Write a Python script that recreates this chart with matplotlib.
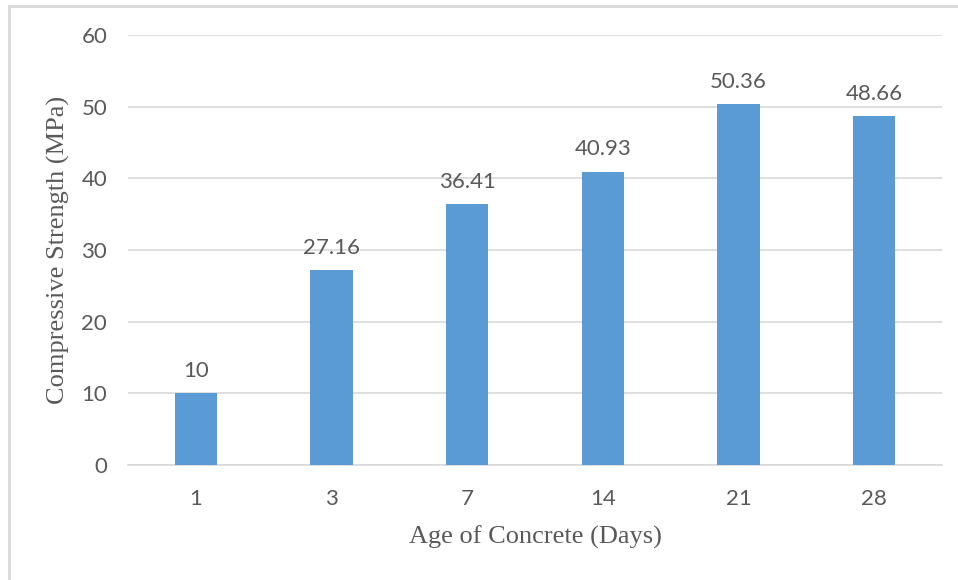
import matplotlib
matplotlib.use("Agg")
import matplotlib.pyplot as plt
from matplotlib.patches import Rectangle

# Data
ages = ["1", "3", "7", "14", "21", "28"]
strength = [10, 27.16, 36.41, 40.93, 50.36, 48.66]
value_labels = ["10", "27.16", "36.41", "40.93", "50.36", "48.66"]

BAR_COLOR = "#5B9BD5"
TEXT_COLOR = "#595959"
GRID_COLOR = "#D9D9D9"

fig = plt.figure(figsize=(9.58, 5.8), dpi=100)
ax = fig.add_axes([128 / 958, 1 - 465 / 580, (942 - 128) / 958, (465 - 35) / 580])

x = list(range(len(ages)))
ax.bar(x, strength, width=0.31, color=BAR_COLOR, zorder=3)

# Value labels above each bar
for xi, val, lab in zip(x, strength, value_labels):
    ax.annotate(lab, (xi, val), xytext=(0, 9), textcoords="offset points",
                ha="center", va="bottom", fontsize=16, color=TEXT_COLOR,
                family="Lato")

ax.set_xlim(-0.5, len(ages) - 0.5)
ax.set_ylim(0, 60)
ax.set_yticks(range(0, 61, 10))
ax.set_xticks(x)
ax.set_xticklabels(ages)
ax.grid(axis="y", color=GRID_COLOR, linewidth=1.2, zorder=0)
for side in ["top", "right", "left"]:
    ax.spines[side].set_visible(False)
ax.spines["bottom"].set_color(GRID_COLOR)
ax.spines["bottom"].set_linewidth(1.2)
ax.tick_params(length=0, labelsize=16, labelcolor=TEXT_COLOR, pad=17)
ax.tick_params(axis="y", pad=15)
for lab in ax.get_xticklabels() + ax.get_yticklabels():
    lab.set_family("Lato")

ax.set_xlabel("Age of Concrete (Days)", fontsize=19, color=TEXT_COLOR,
              family="Liberation Serif", labelpad=12)
ax.set_ylabel("Compressive Strength (MPa)", fontsize=19, color=TEXT_COLOR,
              family="Liberation Serif", labelpad=8)

# Chart area border, cut off at right and bottom like the screenshot
fig.patches.append(Rectangle((9 / 958, -0.1), 1.2, 1 - 6 / 580 + 0.1,
                             transform=fig.transFigure, fill=False,
                             edgecolor=GRID_COLOR, linewidth=2))

fig.savefig("out.png", dpi=100)
